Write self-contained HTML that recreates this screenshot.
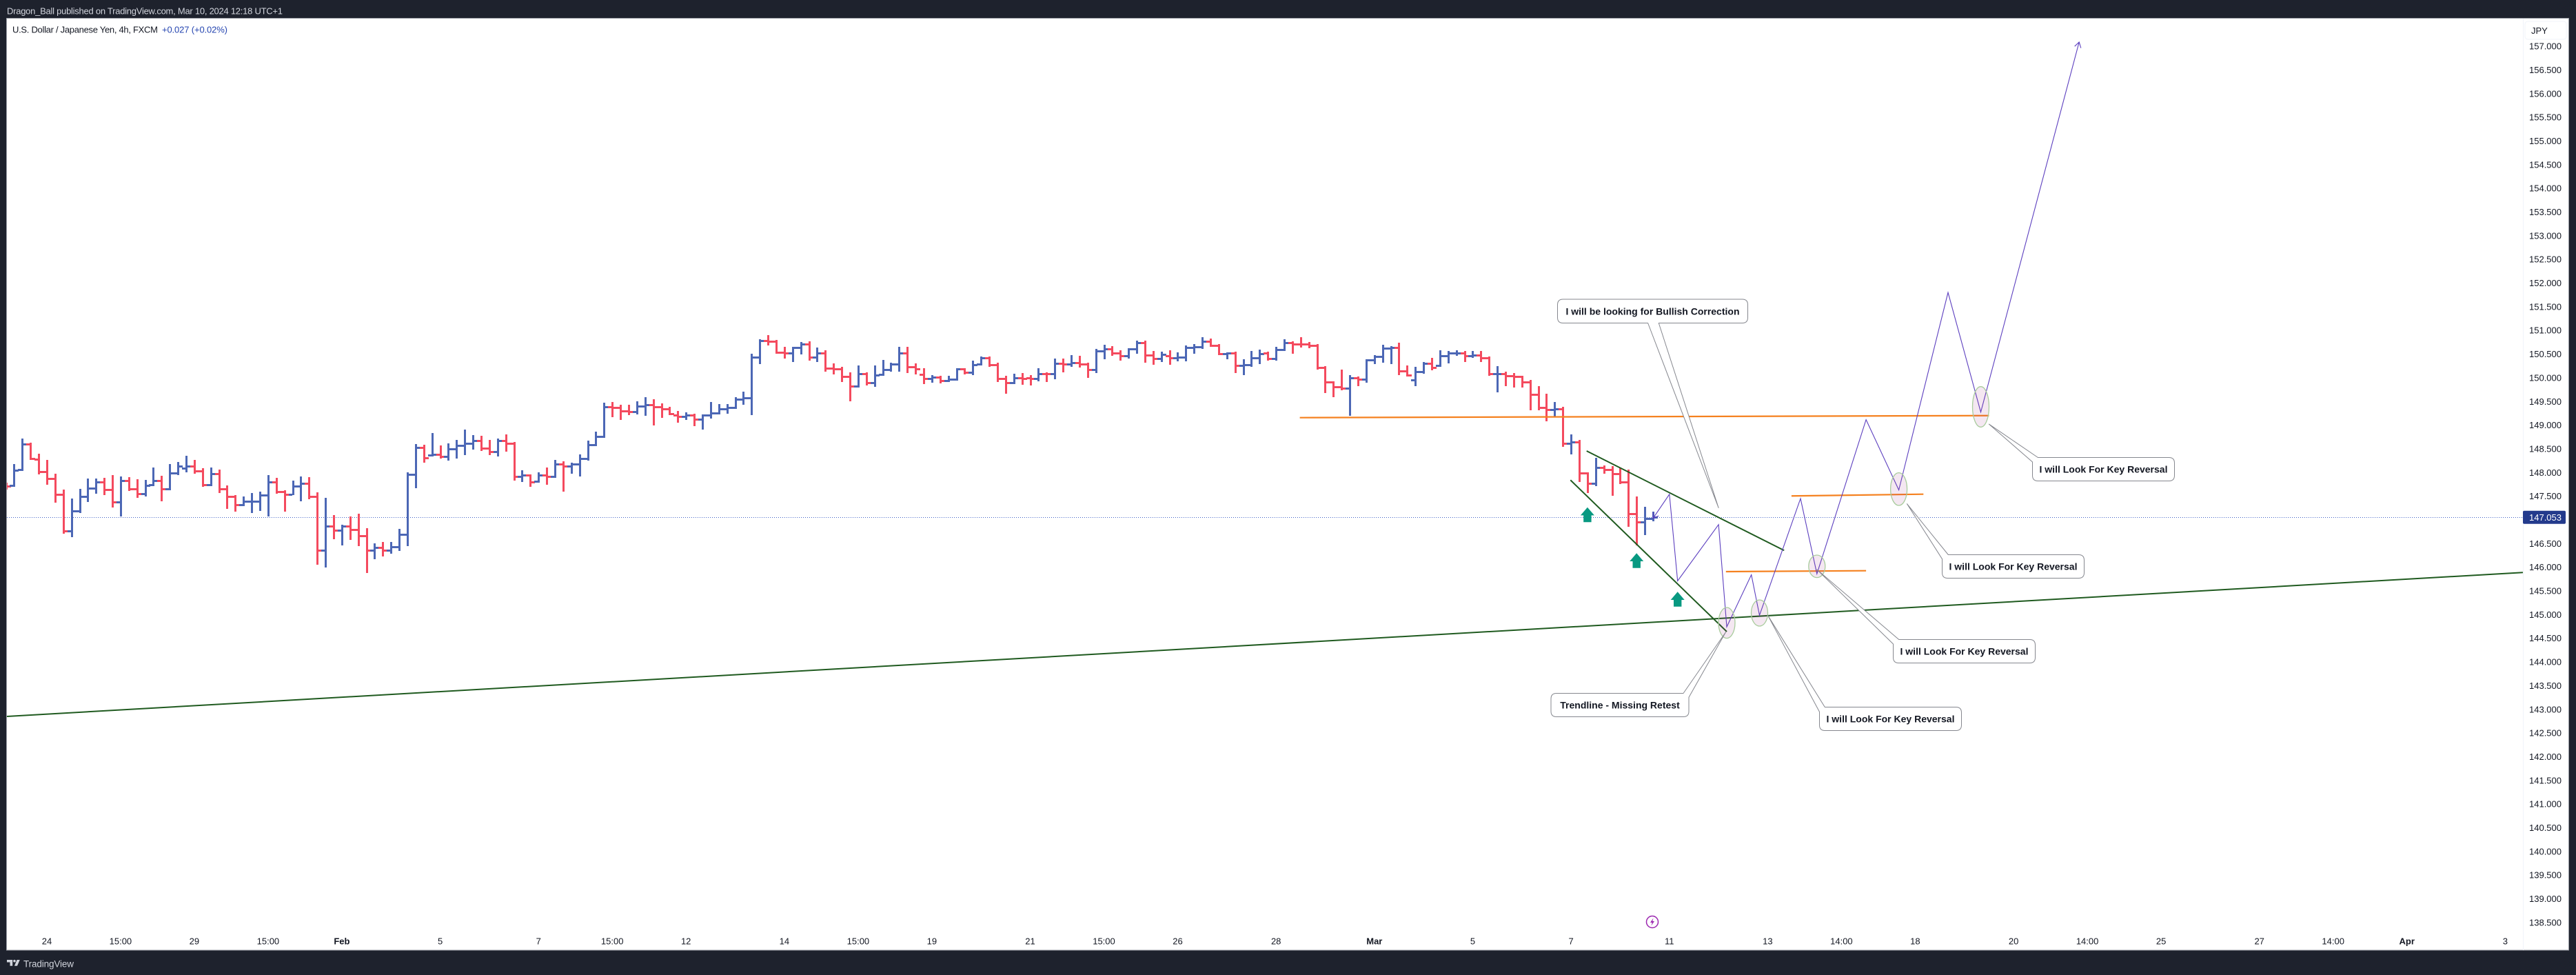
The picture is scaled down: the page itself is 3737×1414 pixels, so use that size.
<!DOCTYPE html>
<html lang="en">
<head>
<meta charset="utf-8">
<title>U.S. Dollar / Japanese Yen, 4h, FXCM</title>
<style>
html,body{margin:0;padding:0;width:3737px;height:1414px;overflow:hidden;background:#1e222d}
svg{display:block}
text{font-family:"Liberation Sans",Arial,sans-serif}
</style>
</head>
<body>
<svg id="chart" xmlns="http://www.w3.org/2000/svg" width="3737" height="1414" viewBox="0 0 3737 1414">
  <defs>
    <clipPath id="plot-clip"><rect x="10" y="27" width="3650" height="1351"/></clipPath>
  </defs>
  <rect x="0" y="0" width="3737" height="1414" fill="#1e222d"/>
  <text x="10" y="20.5" font-size="13" fill="#d1d4dc" textLength="400">Dragon_Ball published on TradingView.com, Mar 10, 2024 12:18 UTC+1</text>
  <rect x="9.5" y="26.5" width="3717" height="1351.5" fill="#ffffff" stroke="#9598a1" stroke-width="1"/>
  <line x1="3660.5" y1="27" x2="3660.5" y2="1378" stroke="#f0f3fa" stroke-width="1"/>
  <text x="18" y="47.5" font-size="13" fill="#131722" textLength="211">U.S. Dollar / Japanese Yen, 4h, FXCM</text>
  <text x="235" y="47.5" font-size="13" fill="#2545b0" textLength="95">+0.027 (+0.02%)</text>
  <g id="price-axis"></g>
  <g id="time-axis"></g>
  <rect x="3663" y="31" width="60" height="26" rx="4" fill="#ffffff" stroke="#f0f3fa" stroke-width="1"/>
  <text x="3672" y="49" font-size="13" fill="#131722">JPY</text>
  <g clip-path="url(#plot-clip)">
    <line id="last-price-line" stroke="#3d5fc4" stroke-width="1" stroke-dasharray="1 2"/>
    <g id="bars"></g>
    <g id="drawings"></g>
  </g>
  <g id="callouts"></g>
  <rect id="last-price-tag" x="3660" width="62" height="19" rx="2" fill="#233a8c"/>
  <text id="last-price-text" x="3716" font-size="13" text-anchor="end" fill="#ffffff">147.053</text>
  <g>
    <circle cx="2397" cy="1337" r="8.5" fill="#ffffff" stroke="#9c27b0" stroke-width="1.5"/>
    <polygon points="2398.5,1331.5 2394,1338 2396.8,1338 2395.5,1342.5 2400,1336 2397.2,1336" fill="#9c27b0"/>
  </g>
  <g>
    <path d="M10 1392h8.2v8.7h-3.7v-5.2H10z" fill="#d1d4dc"/>
    <circle cx="21" cy="1393.7" r="1.8" fill="#d1d4dc"/>
    <polygon points="24.6,1392 28.8,1392 25,1400.7 20.9,1400.7" fill="#d1d4dc"/>
    <text x="34" y="1402.5" font-size="13.5" fill="#d1d4dc" textLength="73">TradingView</text>
  </g>
</svg>
<script>
// ---- Price data (USD/JPY, 4h) ----
const opens = [147.740,147.722,148.057,148.596,148.275,148.013,147.868,147.533,146.761,147.183,
147.489,147.664,147.795,147.635,147.373,147.824,147.649,147.547,147.737,147.824,
147.649,147.984,148.086,148.130,148.028,147.737,147.970,147.649,147.489,147.314,
147.387,147.387,147.518,147.795,147.591,147.533,147.707,147.766,147.489,146.354,
146.863,146.776,146.863,146.790,146.659,146.354,146.412,146.354,146.426,146.689,
147.955,148.522,148.362,148.376,148.333,148.493,148.566,148.609,148.668,148.507,
148.435,148.668,148.609,147.911,147.940,147.809,147.940,147.911,148.173,148.129,
148.173,148.289,148.580,148.755,149.381,149.366,149.294,149.279,149.396,149.425,
149.381,149.337,149.206,149.177,149.206,149.119,149.206,149.250,149.337,149.366,
149.541,149.570,150.429,150.779,150.764,150.531,150.517,150.633,150.706,150.429,
150.517,150.196,150.182,150.022,149.818,150.080,149.890,150.065,150.167,150.284,
150.517,150.225,150.065,149.978,150.007,149.934,149.963,150.182,150.109,150.284,
150.415,150.269,149.978,149.890,149.992,149.992,149.978,150.080,150.080,150.298,
150.284,150.313,150.284,150.167,150.560,150.604,150.517,150.458,150.604,150.735,
150.473,150.400,150.458,150.415,150.429,150.633,150.648,150.764,150.677,150.502,
150.517,150.254,150.269,150.415,150.517,150.400,150.589,150.735,150.706,150.706,
150.677,150.211,149.905,149.803,149.774,149.992,149.963,150.371,150.444,150.618,
150.633,150.138,149.954,150.123,150.298,150.254,150.458,150.517,150.517,150.458,
150.473,150.415,150.080,150.080,150.036,150.022,149.905,149.643,149.366,149.323,
149.337,148.609,148.639,147.983,147.765,148.100,148.056,147.969,147.795,147.125,
146.951,147.023];
const highs = [147.790,148.178,148.717,148.630,148.397,148.266,147.974,147.640,147.450,147.654,
147.873,147.873,147.887,147.945,147.916,147.902,147.858,147.843,148.105,147.931,
148.178,148.222,148.353,148.266,148.091,148.105,148.062,147.727,147.523,147.494,
147.567,147.596,147.945,147.887,147.625,147.829,147.916,147.902,147.581,147.465,
147.101,146.897,147.072,147.130,146.824,146.504,146.533,146.533,146.810,148.004,
148.600,148.585,148.833,148.571,148.614,148.687,148.905,148.789,148.774,148.687,
148.716,148.804,148.643,148.046,147.959,148.003,148.105,148.265,148.236,148.207,
148.381,148.673,148.862,149.473,149.488,149.430,149.430,149.502,149.590,149.546,
149.459,149.386,149.298,149.269,149.240,149.231,149.488,149.444,149.444,149.590,
149.706,150.507,150.813,150.900,150.798,150.652,150.652,150.754,150.769,150.638,
150.580,150.303,150.230,150.114,150.259,150.114,150.259,150.376,150.318,150.652,
150.652,150.303,150.201,150.056,150.041,150.041,150.201,150.201,150.361,150.449,
150.449,150.318,150.041,150.085,150.099,150.056,150.201,150.114,150.405,150.405,
150.478,150.463,150.318,150.609,150.696,150.667,150.580,150.623,150.783,150.783,
150.565,150.551,150.580,150.536,150.682,150.711,150.856,150.827,150.711,150.536,
150.551,150.390,150.565,150.594,150.551,150.652,150.813,150.769,150.856,150.754,
150.711,150.245,149.924,150.172,150.056,150.026,150.390,150.478,150.696,150.667,
150.740,150.259,150.230,150.332,150.420,150.580,150.565,150.580,150.565,150.565,
150.565,150.449,150.245,150.128,150.099,150.041,149.954,149.823,149.662,149.488,
149.386,148.804,148.687,148.003,148.309,148.148,148.134,148.105,148.061,147.493,
147.275,147.173];
const lows = [147.640,147.698,148.038,148.270,147.960,147.742,147.363,146.708,146.635,147.145,
147.377,147.552,147.523,147.261,147.072,147.610,147.465,147.494,147.712,147.392,
147.625,147.945,148.004,147.974,147.698,147.712,147.567,147.232,147.174,147.290,
147.145,147.188,147.072,147.552,147.174,147.523,147.392,147.436,146.053,145.995,
146.591,146.460,146.577,146.446,145.878,146.169,146.227,146.286,146.344,146.446,
147.669,148.207,148.338,148.294,148.250,148.294,148.367,148.483,148.454,148.367,
148.338,148.440,147.828,147.799,147.697,147.784,147.741,147.886,147.595,147.974,
147.915,148.250,148.556,148.731,149.167,149.109,149.211,149.226,149.197,148.993,
149.153,149.211,149.051,149.109,148.978,148.905,149.138,149.226,149.240,149.342,
149.430,149.211,150.288,150.682,150.507,150.405,150.332,150.492,150.361,150.332,
150.128,150.070,149.910,149.502,149.793,149.837,149.808,150.041,150.128,150.128,
150.099,150.070,149.866,149.895,149.881,149.910,149.939,150.070,150.056,150.259,
150.230,149.910,149.662,149.866,149.852,149.837,149.924,149.910,149.968,150.114,
150.230,150.216,149.997,150.099,150.390,150.463,150.361,150.405,150.507,150.318,
150.274,150.332,150.274,150.347,150.347,150.507,150.609,150.652,150.478,150.390,
150.099,150.056,150.230,150.288,150.361,150.361,150.560,150.507,150.638,150.623,
150.172,149.677,149.590,149.735,149.197,149.823,149.895,150.288,150.318,150.288,
150.056,150.026,149.823,150.085,150.157,150.230,150.303,150.463,150.332,150.420,
150.332,150.041,149.692,149.823,149.793,149.793,149.313,149.313,149.080,149.182,
148.541,148.381,147.799,147.566,147.712,147.974,147.508,147.755,146.853,146.460,
146.678,146.969];
const closes = [147.707,148.042,148.596,148.290,148.013,147.868,147.533,146.761,147.183,147.489,
147.664,147.795,147.635,147.373,147.824,147.649,147.547,147.722,147.824,147.649,
147.984,148.130,148.130,148.028,147.737,147.970,147.649,147.489,147.314,147.387,
147.388,147.518,147.795,147.591,147.533,147.707,147.766,147.489,146.354,146.863,
146.776,146.863,146.790,146.659,146.354,146.412,146.354,146.426,146.689,147.955,
148.523,148.304,148.376,148.333,148.493,148.566,148.609,148.668,148.507,148.435,
148.668,148.609,147.911,147.940,147.794,147.940,147.911,148.173,148.129,148.173,
148.289,148.580,148.755,149.381,149.366,149.294,149.279,149.396,149.425,149.381,
149.337,149.235,149.177,149.206,149.119,149.206,149.250,149.337,149.366,149.541,
149.570,150.429,150.779,150.764,150.531,150.517,150.633,150.706,150.429,150.517,
150.196,150.182,150.022,149.818,150.080,149.890,150.051,150.167,150.284,150.517,
150.225,150.182,149.978,150.007,149.934,149.963,150.182,150.109,150.269,150.415,
150.269,149.978,149.890,149.992,149.990,149.978,150.080,150.078,150.298,150.284,
150.313,150.284,150.167,150.560,150.604,150.517,150.458,150.604,150.735,150.473,
150.400,150.487,150.415,150.429,150.633,150.648,150.764,150.677,150.502,150.517,
150.254,150.269,150.415,150.502,150.400,150.589,150.735,150.706,150.704,150.677,
150.211,149.905,149.803,149.774,149.992,149.963,150.371,150.444,150.618,150.633,
150.138,150.051,150.123,150.298,150.211,150.458,150.517,150.519,150.458,150.473,
150.415,150.080,150.082,150.036,150.022,149.905,149.643,149.366,149.323,149.337,
148.609,148.639,147.983,147.765,148.100,148.056,147.969,147.794,147.125,146.951,
147.023,147.053];
const lastPrice = 147.053;

// ---- Axis tick labels ----
const priceTicks = [157,156.5,156,155.5,155,154.5,154,153.5,153,152.5,152,151.5,151,150.5,150,149.5,149,148.5,148,147.5,147,146.5,146,145.5,145,144.5,144,143.5,143,142.5,142,141.5,141,140.5,140,139.5,139,138.5];
const timeTickLabels = ["24","15:00","29","15:00","Feb","5","7","15:00","12","14","15:00","19","21","15:00","26","28","Mar","5","7","11","13","14:00","18","20","14:00","25","27","14:00","Apr","3"];
const timeTickBars = [4,13,22,31,40,52,64,73,82,94,103,112,124,133,142,154,166,178,190,202,214,223,232,244,253,262,274,283,292,304];
const boldTimeTicks = ["Feb","Mar","Apr"];

// ---- Drawing anchors: bar number and price ----
const forecastBars = [200,202,203,208,209,212,213,218,220,226,230,236,240,252];
const forecastPrices = [147.03,147.54,145.71,146.90,144.74,145.84,144.985,147.45,145.86,149.115,147.63,151.80,149.275,157.087];
const trendBars = [[-0.875,306.15],[191.9,216],[189.93,209]];
const trendPrices = [[142.85,145.888],[148.454,146.354],[147.839,144.64]];
const levelBars = [[156.9,241],[208.9,226],[216.9,233]];
const levelPrices = [[149.158,149.201],[145.907,145.926],[147.504,147.542]];
const zoneBars = [209,213,220,230,240];
const zonePrices = [144.825,145.033,146.019,147.649,149.386];
const zoneHalfHeights = [0.325,0.277,0.237,0.345,0.427];
const signalBars = [192,198,203];
const signalPrices = [147.265,146.295,145.48];
const calloutTexts = ["I will be looking for Bullish Correction","Trendline - Missing Retest","I will Look For Key Reversal","I will Look For Key Reversal","I will Look For Key Reversal","I will Look For Key Reversal"];
const calloutTipBars = [208,208.88,214,220,231,241];
const calloutTipPrices = [147.253,144.631,144.987,145.95,147.338,149.02];

// ---- Axis functions ----
const BAR_X0 = 20.4, BAR_STEP = 11.888, PRICE_TOP = 157, PRICE_Y0 = 67, PX_PER_PRICE = 68.69;
function xOf(bar){ return BAR_X0 + BAR_STEP * bar; }
function yOf(price){ return PRICE_Y0 + (PRICE_TOP - price) * PX_PER_PRICE; }

const NS = 'http://www.w3.org/2000/svg';
function make(tag, attrs, parent){
  const el = document.createElementNS(NS, tag);
  for (const k in attrs) el.setAttribute(k, attrs[k]);
  parent.appendChild(el);
  return el;
}

// price axis
const priceAxis = document.getElementById('price-axis');
priceTicks.forEach(function(p){
  const t = make('text', {x:3716, y:(yOf(p)+4.6).toFixed(1), 'font-size':13, 'text-anchor':'end', fill:'#131722'}, priceAxis);
  
  
  t.textContent = p.toFixed(3);
});

// time axis
const timeAxis = document.getElementById('time-axis');
timeTickLabels.forEach(function(label, i){
  const t = make('text', {x:xOf(timeTickBars[i]).toFixed(1), y:1369.7, 'font-size':13, 'text-anchor':'middle', fill:'#131722'}, timeAxis);
  if (boldTimeTicks.indexOf(label) >= 0) t.setAttribute('font-weight', 'bold');
  
  
  t.textContent = label;
});

// last price
const lastY = yOf(lastPrice);
const lp = document.getElementById('last-price-line');
lp.setAttribute('x1', 10); lp.setAttribute('x2', 3660);
lp.setAttribute('y1', Math.round(lastY)+0.5); lp.setAttribute('y2', Math.round(lastY)+0.5);
document.getElementById('last-price-tag').setAttribute('y', (lastY-9.5).toFixed(1));
document.getElementById('last-price-text').setAttribute('y', (lastY+4.6).toFixed(1));

// OHLC bars
const barsGroup = document.getElementById('bars');
opens.forEach(function(o, i){
  const cx = Math.round(xOf(i-1));
  const yH = Math.round(yOf(highs[i]));
  const yL = Math.round(yOf(lows[i]));
  const yO = Math.round(yOf(o));
  const yC = Math.round(yOf(closes[i]));
  const col = closes[i] >= o ? '#4c67b5' : '#f44a5e';
  const d = 'M'+(cx-1)+' '+yH+'h3V'+yL+'h-3Z'+
            'M'+(cx-6)+' '+(yO-1)+'h5v3h-5Z'+
            'M'+(cx+2)+' '+(yC-1)+'h5v3h-5Z';
  const bar = make('path', {d:d, fill:col, 'shape-rendering':'crispEdges'}, barsGroup);
  
  
});

// drawings
const drawings = document.getElementById('drawings');
trendBars.forEach(function(b, i){
  const line = make('line', {x1:xOf(b[0]), y1:yOf(trendPrices[i][0]), x2:xOf(b[1]), y2:yOf(trendPrices[i][1]), stroke:'#1f5a1f', 'stroke-width':2}, drawings);
  
  
});
levelBars.forEach(function(b, i){
  const line = make('line', {x1:xOf(b[0]), y1:yOf(levelPrices[i][0]), x2:xOf(b[1]), y2:yOf(levelPrices[i][1]), stroke:'#f5811f', 'stroke-width':2.2}, drawings);
  
  
});
const forecastPoints = forecastBars.map(function(b, i){ return [xOf(b), yOf(forecastPrices[i])]; });
const forecast = make('polyline', {points:forecastPoints.map(function(p){return p[0].toFixed(1)+','+p[1].toFixed(1);}).join(' '), fill:'none', stroke:'#5c3fbf', 'stroke-width':1.1, 'stroke-linejoin':'miter'}, drawings);


function arrowHead(tip, from){
  const a = Math.atan2(from[1]-tip[1], from[0]-tip[0]);
  const L = 9, w = 0.55;
  const p1 = [tip[0]+L*Math.cos(a+w), tip[1]+L*Math.sin(a+w)];
  const p2 = [tip[0]+L*Math.cos(a-w), tip[1]+L*Math.sin(a-w)];
  return 'M'+p1[0].toFixed(1)+' '+p1[1].toFixed(1)+'L'+tip[0].toFixed(1)+' '+tip[1].toFixed(1)+'L'+p2[0].toFixed(1)+' '+p2[1].toFixed(1);
}
const headEnd = make('path', {d:arrowHead(forecastPoints[forecastPoints.length-1], forecastPoints[forecastPoints.length-2]), fill:'none', stroke:'#5c3fbf', 'stroke-width':1.1}, drawings);


const headStart = make('path', {d:arrowHead(forecastPoints[0], forecastPoints[1]), fill:'none', stroke:'#5c3fbf', 'stroke-width':1.1}, drawings);



zoneBars.forEach(function(b, i){
  const ry = zoneHalfHeights[i] * PX_PER_PRICE;
  const zone = make('ellipse', {cx:xOf(b).toFixed(1), cy:yOf(zonePrices[i]).toFixed(1), rx:12, ry:ry.toFixed(1), fill:'#9c2780', 'fill-opacity':0.11, stroke:'#a8cc9c', 'stroke-width':1.3}, drawings);
  
  
});

signalBars.forEach(function(b, i){
  const x = xOf(b), tip = yOf(signalPrices[i]);
  const pts = [[x,tip],[x+10,tip+11.7],[x+5.7,tip+11.7],[x+5.7,tip+21.5],[x-5.7,tip+21.5],[x-5.7,tip+11.7],[x-10,tip+11.7]];
  const arrow = make('polygon', {points:pts.map(function(p){return p[0].toFixed(1)+','+p[1].toFixed(1);}).join(' '), fill:'#089981'}, drawings);
  
  
});

// callouts: box layout in pixels, tip anchored to bar and price
const calloutBoxes = [
  {x0:2259.5,y0:434,x1:2535.5,y1:468.5,kind:'bottom',a:2390.6,b:2406.3},
  {x0:2250,y0:1005.5,x1:2450,y1:1039.5,kind:'topright',a:2442,b:1011.3},
  {x0:2639.5,y0:1025.5,x1:2845.5,y1:1059.5,kind:'topleft',a:2647.3,b:1032.4},
  {x0:2746.5,y0:927.5,x1:2952.5,y1:961.5,kind:'topleft',a:2754.7,b:934},
  {x0:2817.5,y0:804.5,x1:3023.5,y1:838.5,kind:'topleft',a:2826.3,b:810.7},
  {x0:2948.5,y0:663.5,x1:3154.5,y1:697.5,kind:'topleft',a:2956.4,b:670}
];
function calloutPath(box, tx, ty){
  const x0=box.x0,y0=box.y0,x1=box.x1,y1=box.y1,r=8,a=box.a,b=box.b;
  const tip = tx.toFixed(1)+' '+ty.toFixed(1);
  if (box.kind === 'topleft') {
    return 'M'+x0+' '+b+'L'+tip+'L'+a+' '+y0+'H'+(x1-r)+'Q'+x1+' '+y0+' '+x1+' '+(y0+r)+'V'+(y1-r)+'Q'+x1+' '+y1+' '+(x1-r)+' '+y1+'H'+(x0+r)+'Q'+x0+' '+y1+' '+x0+' '+(y1-r)+'Z';
  }
  if (box.kind === 'topright') {
    return 'M'+x1+' '+b+'L'+tip+'L'+a+' '+y0+'H'+(x0+r)+'Q'+x0+' '+y0+' '+x0+' '+(y0+r)+'V'+(y1-r)+'Q'+x0+' '+y1+' '+(x0+r)+' '+y1+'H'+(x1-r)+'Q'+x1+' '+y1+' '+x1+' '+(y1-r)+'Z';
  }
  return 'M'+a+' '+y1+'L'+tip+'L'+b+' '+y1+'H'+(x1-r)+'Q'+x1+' '+y1+' '+x1+' '+(y1-r)+'V'+(y0+r)+'Q'+x1+' '+y0+' '+(x1-r)+' '+y0+'H'+(x0+r)+'Q'+x0+' '+y0+' '+x0+' '+(y0+r)+'V'+(y1-r)+'Q'+x0+' '+y1+' '+(x0+r)+' '+y1+'Z';
}
const calloutsGroup = document.getElementById('callouts');
calloutTexts.forEach(function(txt, i){
  const box = calloutBoxes[i];
  const shape = make('path', {d:calloutPath(box, xOf(calloutTipBars[i]), yOf(calloutTipPrices[i])), fill:'#ffffff', stroke:'#85878e', 'stroke-width':1, 'stroke-linejoin':'round'}, calloutsGroup);
  
  
  const label = make('text', {x:(box.x0+box.x1)/2, y:(box.y0+box.y1)/2+5, 'font-size':14, 'font-weight':'bold', 'text-anchor':'middle', fill:'#131722'}, calloutsGroup);
  
  
  label.textContent = txt;
});
</script>
</body>
</html>
